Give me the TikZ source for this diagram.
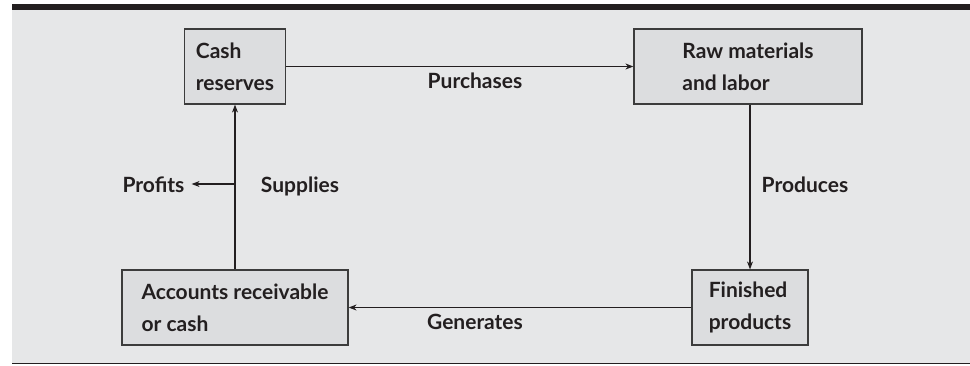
\documentclass[tikz,border=0pt]{standalone}
\usepackage{fontspec}
\setmainfont{Lato}
\usetikzlibrary{arrows.meta}
\definecolor{panel}{HTML}{E6E7E8}
\definecolor{boxfill}{HTML}{DCDDDF}
\definecolor{ink}{HTML}{231F20}
\definecolor{edge}{HTML}{3C3C3C}
\begin{document}
\begin{tikzpicture}[x=1pt,y=-1pt,
  every node/.style={font=\fontsize{21}{32}\selectfont\bfseries, text=ink},
  box/.style={draw=edge, line width=1.2pt, fill=boxfill, align=left, inner sep=0pt},
  flow/.style={draw=ink, line width=1.1pt, -{Stealth[length=8pt,width=6pt]}},
  lbl/.style={inner sep=0pt, anchor=base}]
\useasboundingbox (0,0) rectangle (970,365);
\fill[panel] (12,9) rectangle (970,363);
\fill[ink] (12,4) rectangle (970,9.5);
\draw[ink, line width=1pt] (12,363.5) -- (970,363.5);

\node[box, minimum width=101pt, minimum height=75pt] (cash) at (235,66.5) {Cash\\reserves};
\node[box, minimum width=228pt, minimum height=75pt] (raw) at (748,66.5) {Raw materials\\and labor};
\node[box, minimum width=116pt, minimum height=75pt] (fin) at (750,307.5) {Finished\\products};
\node[box, minimum width=226pt, minimum height=75pt] (acc) at (235,307.5) {Accounts receivable\\or cash};

\draw[flow] (cash.east) -- (raw.west);
\draw[flow] (raw.south -| fin.north) -- (fin.north);
\draw[flow] (fin.west) -- (acc.east);
\draw[flow] (acc.north) -- (cash.south);

\node[lbl] (purch) at (475,88) {Purchases};
\node[lbl] (prod) at (805,192) {Produces};
\node[lbl] (gen) at (475,329) {Generates};
\node[lbl] (supp) at (300,192) {Supplies};
\node[lbl] (prof) at (153.5,192) {Profits};

\coordinate (branch) at (235,184);
\draw[flow, shorten >=7pt] (branch) -- (branch -| prof.east);
\end{tikzpicture}
\end{document}
